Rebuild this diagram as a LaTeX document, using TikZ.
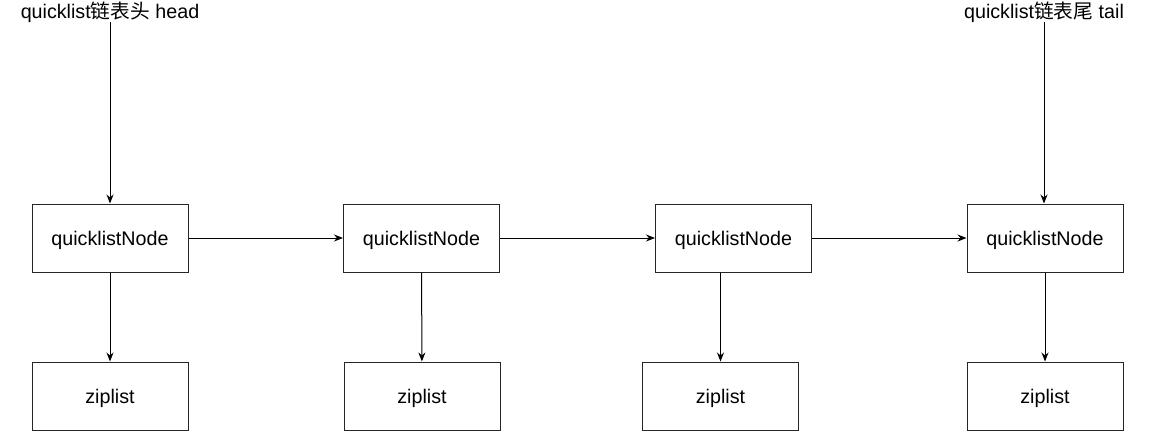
\documentclass[tikz,border=0pt]{standalone}
\usepackage{fontspec}
\setmainfont{Liberation Sans}
\newfontfamily\cjk{Noto Sans CJK SC}
\usetikzlibrary{arrows.meta}
\begin{document}
\begin{tikzpicture}[x=1pt,y=-1pt,
  every node/.style={font=\fontsize{19.7}{23}\selectfont, inner sep=0pt},
  box/.style={draw=black!85, line width=1pt, minimum width=156pt, minimum height=68pt, text height=14pt, text depth=0pt},
  lbl/.style={text height=14pt, text depth=4pt},
  arr/.style={draw=black, line width=1pt, -{Stealth[length=9pt,width=7pt]}}]
\useasboundingbox (0,0) rectangle (1156,432);
\node[lbl] (head) at (110,13) {quicklist{\cjk 链表头} head};
\node[lbl] (tail) at (1044,13) {quicklist{\cjk 链表尾} tail};
\node[box] (n1) at (110,238) {quicklistNode};
\node[box] (n2) at (421.5,238) {quicklistNode};
\node[box] (n3) at (733.5,238) {quicklistNode};
\node[box] (n4) at (1045,238) {quicklistNode};
\node[box] (z1) at (110,396) {ziplist};
\node[box] (z2) at (422,396) {ziplist};
\node[box] (z3) at (720.5,396) {ziplist};
\node[box] (z4) at (1045,396) {ziplist};
\draw[arr] (head.south) -- (n1.north);
\draw[arr] (tail.south) -- (tail.south |- n4.north);
\draw[arr] (n1) -- (n2);
\draw[arr] (n2) -- (n3);
\draw[arr] (n3) -- (n4);
\draw[arr] (n1) -- (z1);
\draw[arr] (n2) -- (z2);
\draw[arr] (z3.north |- n3.south) -- (z3.north);
\draw[arr] (n4) -- (z4);
\end{tikzpicture}
\end{document}
